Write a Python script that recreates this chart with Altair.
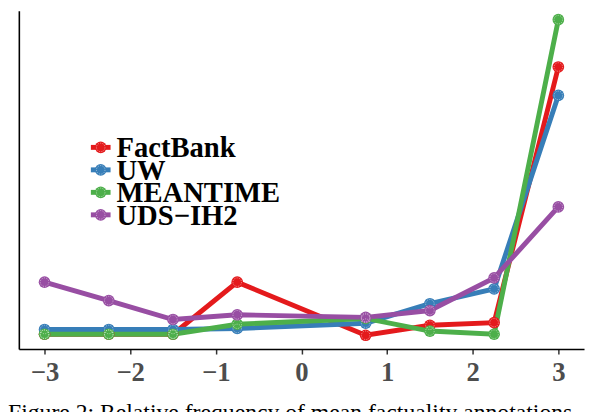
import altair as alt
import pandas as pd

xs = [-3, -2.25, -1.5, -0.75, 0.75, 1.5, 2.25, 3]
series_names = ["FactBank", "UW", "MEANTIME", "UDS\u2212IH2"]
factbank = [0.012, 0.012, 0.012, 0.111, 0.010, 0.029, 0.034, 0.520]
uw = [0.021, 0.021, 0.021, 0.023, 0.033, 0.070, 0.098, 0.466]
meantime = [0.012, 0.012, 0.012, 0.031, 0.042, 0.018, 0.012, 0.610]
uds = [0.111, 0.076, 0.040, 0.049, 0.044, 0.057, 0.119, 0.254]
colors = ["#E41A1C", "#377EB8", "#4DAF4A", "#984EA3"]
x_ticks = [-3, -2, -1, 0, 1, 2, 3]
caption = "Figure 2: Relative frequency of mean factuality annotations."

SERIF = "Liberation Serif, Times New Roman, Times, serif"

rows = []
for i, (name, vals) in enumerate(zip(series_names, [factbank, uw, meantime, uds])):
    for j, (x, v) in enumerate(zip(xs, vals)):
        rows.append({"dataset": name, "x": x, "freq": v, "k": i * 100 + j})
df = pd.DataFrame(rows)
leg_df = pd.DataFrame({"dataset": series_names, "row": list(range(len(series_names)))})

XMIN, XMAX = -3.3, 3.3
YMIN, YMAX = -0.01625, 0.6269
xscale = alt.Scale(domain=[XMIN, XMAX], nice=False, zero=False)
yscale = alt.Scale(domain=[YMIN, YMAX], nice=False, zero=False)
cscale = alt.Scale(domain=series_names, range=colors)

X = alt.X("x:Q", scale=xscale, title=None,
          axis=alt.Axis(values=x_ticks, grid=False, domainColor="black", domainWidth=1.6,
                        tickColor="#333333", tickWidth=1.5, tickSize=5,
                        labelFont=SERIF, labelFontWeight="bold",
                        labelFontSize=27, labelColor="#4D4D4D", labelPadding=6,
                        labelExpr="replace(format(datum.value, 'd'), '-', '\u2212')"))
Y = alt.Y("freq:Q", scale=yscale, title=None,
          axis=alt.Axis(labels=False, ticks=False, grid=False, domainColor="black",
                        domainWidth=1.6))
C = alt.Color("dataset:N", scale=cscale, legend=None)

base = alt.Chart(df)

lines = base.mark_line(strokeWidth=5, strokeCap="butt").encode(
    x=X, y=Y, color=C, detail="dataset:N",
)

points = base.mark_point(filled=True, size=140, opacity=1).encode(
    x=X, y=Y, color=C, order=alt.Order("k:Q"),
)

rings = base.mark_point(filled=False, size=75, stroke="white", strokeWidth=0.6,
                        strokeDash=[1.2, 1.2], opacity=0.8).encode(
    x=X, y=Y, order=alt.Order("k:Q"),
)

# --- in-plot legend (layout in data units of the shared scales) ---
leg = alt.Chart(leg_df).transform_calculate(
    ly="0.3672 - 0.04275 * datum.row",
    sx1="-2.459", sx2="-2.229", cx="-2.344", tx="-2.160",
)
LY = alt.Y("ly:Q", scale=yscale)
leg_line = leg.mark_rule(strokeWidth=5).encode(
    x=alt.X("sx1:Q", scale=xscale), x2="sx2:Q", y=LY, color=C)
leg_pt = leg.mark_point(filled=True, size=140, opacity=1).encode(
    x=alt.X("cx:Q", scale=xscale), y=LY, color=C)
leg_ring = leg.mark_point(filled=False, size=75, stroke="white", strokeWidth=0.6,
                          strokeDash=[1.2, 1.2], opacity=0.8).encode(
    x=alt.X("cx:Q", scale=xscale), y=LY)
leg_txt = leg.mark_text(align="left", baseline="middle", font=SERIF, fontWeight="bold",
                        fontSize=29, color="black", dy=1).encode(
    x=alt.X("tx:Q", scale=xscale), y=LY, text="dataset:N")

cap = alt.Chart(pd.DataFrame({"t": [caption]})).mark_text(
    align="left", baseline="alphabetic", font=SERIF, fontSize=24,
    color="black"
).encode(x=alt.value(-11), y=alt.value(415), text="t:N")

chart = alt.layer(lines, points, rings, leg_line, leg_pt, leg_ring, leg_txt, cap).properties(
    width=573, height=343,
    autosize=alt.AutoSizeParams(type="none"),
    padding={"left": 11, "top": 0, "right": 2, "bottom": 62},
).configure_view(stroke=None)

chart.save("out.html", embed_options={"renderer": "svg", "actions": False})
